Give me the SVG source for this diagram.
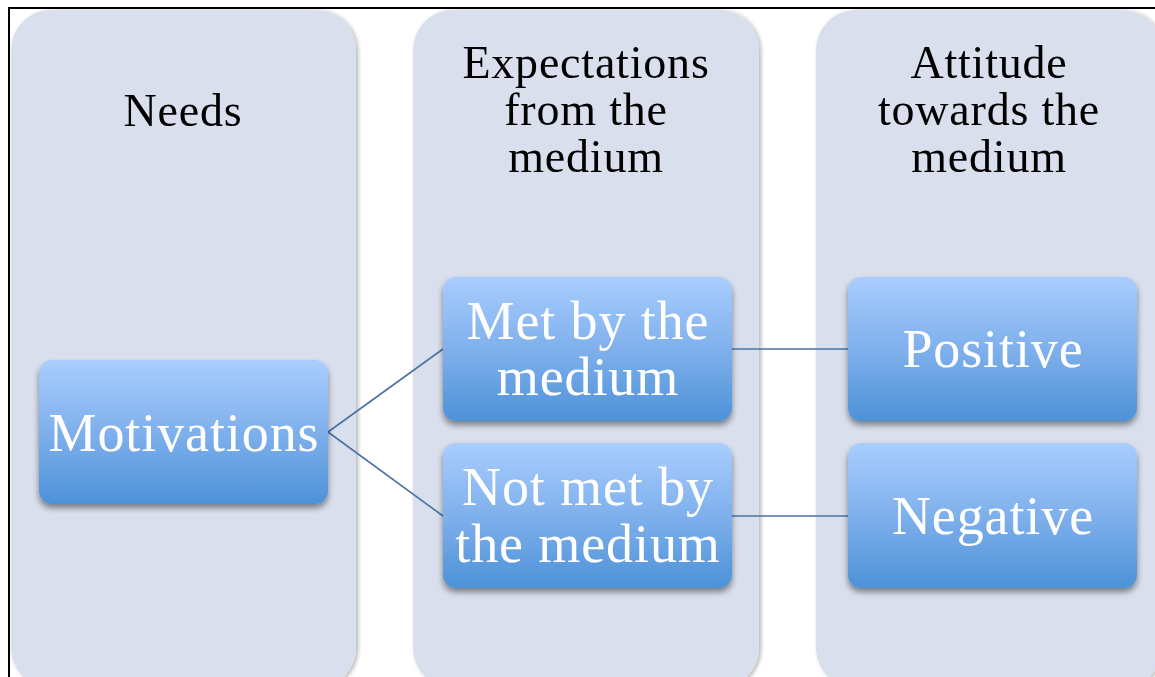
<svg xmlns="http://www.w3.org/2000/svg" width="1155" height="677" viewBox="0 0 1155 677">
<defs>
<linearGradient id="boxGrad" x1="0" y1="0" x2="0" y2="1">
<stop offset="0" stop-color="#a9cdfe"/>
<stop offset="0.5" stop-color="#7fb0ec"/>
<stop offset="1" stop-color="#4d92d8"/>
</linearGradient>
<filter id="boxShadow" x="-10%" y="-10%" width="120%" height="130%">
<feGaussianBlur in="SourceAlpha" stdDeviation="3"/>
<feOffset dx="0" dy="4" result="b"/>
<feComponentTransfer><feFuncA type="linear" slope="0.45"/></feComponentTransfer>
<feMerge><feMergeNode/><feMergeNode in="SourceGraphic"/></feMerge>
</filter>
<filter id="colShadow" x="-5%" y="-5%" width="110%" height="110%">
<feGaussianBlur in="SourceAlpha" stdDeviation="2"/>
<feOffset dx="2" dy="1"/>
<feComponentTransfer><feFuncA type="linear" slope="0.3"/></feComponentTransfer>
<feMerge><feMergeNode/><feMergeNode in="SourceGraphic"/></feMerge>
</filter>
</defs>
<style>
.col{fill:#d9dfec;}
.box{fill:url(#boxGrad);}
.hdr{font-family:"Liberation Serif","DejaVu Serif",serif;font-size:46px;fill:#000;text-anchor:middle;letter-spacing:0.8px;}
.lbl{font-family:"Liberation Serif","DejaVu Serif",serif;font-size:54px;fill:#fff;text-anchor:middle;letter-spacing:0.9px;}
.conn{stroke:#4a72a3;stroke-width:1.6;fill:none;}
</style>
<rect x="0" y="0" width="1155" height="677" fill="#fff"/>
<path d="M9 677 V8 H1155" fill="none" stroke="#000" stroke-width="2"/>

<g id="col-needs" filter="url(#colShadow)">
<rect class="col" x="11" y="10" width="345" height="678" rx="40"/>
<text class="hdr" x="183" y="126">Needs</text>
</g>
<g id="col-expectations" filter="url(#colShadow)">
<rect class="col" x="413" y="10" width="346" height="678" rx="40"/>
<text class="hdr" x="586" y="78">Expectations</text>
<text class="hdr" x="586" y="125">from the</text>
<text class="hdr" x="586" y="172">medium</text>
</g>
<g id="col-attitude" filter="url(#colShadow)">
<rect class="col" x="816" y="10" width="346" height="678" rx="40"/>
<text class="hdr" x="989" y="78">Attitude</text>
<text class="hdr" x="989" y="125">towards the</text>
<text class="hdr" x="989" y="172">medium</text>
</g>

<g id="connectors">
<line class="conn" x1="328" y1="432" x2="443" y2="349"/>
<line class="conn" x1="328" y1="432" x2="443" y2="516"/>
<line class="conn" x1="732" y1="349" x2="848" y2="349"/>
<line class="conn" x1="732" y1="516" x2="848" y2="516"/>
</g>

<g id="motivations" filter="url(#boxShadow)">
<rect class="box" x="39" y="360" width="289" height="144" rx="13"/>
<text class="lbl" x="184" y="451">Motivations</text>
</g>
<g id="met" filter="url(#boxShadow)">
<rect class="box" x="443" y="277" width="289" height="144" rx="13"/>
<text class="lbl" x="588" y="339">Met by the</text>
<text class="lbl" x="588" y="395">medium</text>
</g>
<g id="notmet" filter="url(#boxShadow)">
<rect class="box" x="443" y="443" width="289" height="145" rx="13"/>
<text class="lbl" x="588" y="505">Not met by</text>
<text class="lbl" x="588" y="562">the medium</text>
</g>
<g id="positive" filter="url(#boxShadow)">
<rect class="box" x="848" y="277" width="289" height="144" rx="13"/>
<text class="lbl" x="993" y="367">Positive</text>
</g>
<g id="negative" filter="url(#boxShadow)">
<rect class="box" x="848" y="443" width="289" height="145" rx="13"/>
<text class="lbl" x="993" y="534">Negative</text>
</g>
</svg>
